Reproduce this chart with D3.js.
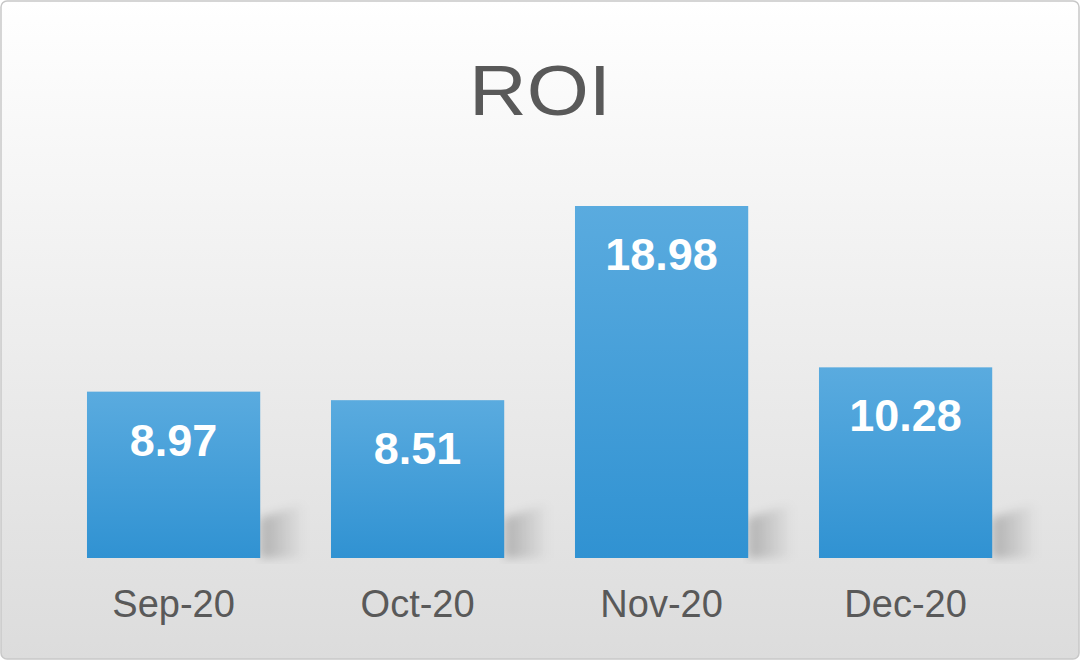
<!DOCTYPE html>
<html><head><meta charset="utf-8">
<script src="https://cdn.jsdelivr.net/npm/d3@7"></script>
<style>body{margin:0;background:#fff}</style></head>
<body><svg id="c" width="1080" height="660"></svg>
<script>
const categories = ["Sep-20","Oct-20","Nov-20","Dec-20"];
const values = [8.97, 8.51, 18.98, 10.28];
const title = "ROI";

const svg = d3.select("#c");
const defs = svg.append("defs");
const bg = defs.append("linearGradient").attr("id","bg").attr("x1",0).attr("x2",0).attr("y1",0).attr("y2",1);
bg.append("stop").attr("offset","0%").attr("stop-color","#ffffff");
bg.append("stop").attr("offset","100%").attr("stop-color","#dcdcdc");
const bar = defs.append("linearGradient").attr("id","bar").attr("x1",0).attr("x2",0).attr("y1",0).attr("y2",1);
bar.append("stop").attr("offset","0%").attr("stop-color","#5aabdf");
bar.append("stop").attr("offset","100%").attr("stop-color","#3092d2");
const sh = defs.append("linearGradient").attr("id","sh").attr("x1",0).attr("x2",1).attr("y1",0).attr("y2",0);
sh.append("stop").attr("offset","0%").attr("stop-color","#000").attr("stop-opacity",0.22);
sh.append("stop").attr("offset","100%").attr("stop-color","#000").attr("stop-opacity",0);
defs.append("filter").attr("id","blur").append("feGaussianBlur").attr("stdDeviation",5);

svg.append("rect").attr("x",1).attr("y",1).attr("width",1078).attr("height",658).attr("rx",6)
  .attr("fill","url(#bg)").attr("stroke","#c8c8c8").attr("stroke-width",1.5);

svg.append("text").attr("x",540).attr("y",115).attr("text-anchor","middle")
  .attr("font-family","Liberation Sans, Arial, sans-serif").attr("font-size",70)
  .attr("textLength",142).attr("lengthAdjust","spacingAndGlyphs").attr("fill","#595959").text(title);

const x = d3.scaleBand().domain(categories).range([51.6,1027.6]).paddingInner(0.29).paddingOuter(0.145);
const y = d3.scaleLinear().domain([0,18.98]).range([558,206]);

const g = svg.append("g");
g.selectAll(".sh").data(values).join("path")
  .attr("d",(d,i)=>{const x1=x(categories[i])+x.bandwidth(), yb=y(0);
    return `M${x1},${yb} L${x1},${yb-40} L${x1+45},${yb-55} L${x1+45},${yb} Z`;})
  .attr("fill","url(#sh)").attr("filter","url(#blur)");
g.selectAll(".b").data(values).join("rect")
  .attr("x",(d,i)=>x(categories[i])).attr("width",x.bandwidth())
  .attr("y",d=>y(d)).attr("height",d=>y(0)-y(d)).attr("fill","url(#bar)");
g.selectAll(".l").data(values).join("text")
  .attr("x",(d,i)=>x(categories[i])+x.bandwidth()/2).attr("y",d=>y(d)+64)
  .attr("text-anchor","middle").attr("font-family","Liberation Sans, Arial, sans-serif")
  .attr("font-weight","bold").attr("font-size",45).attr("fill","#fff").text(d=>d.toFixed(2));

const ax = svg.append("g").attr("transform","translate(0,558)").call(d3.axisBottom(x).tickSize(0).tickPadding(32));
ax.select(".domain").remove();
ax.selectAll("text").attr("font-family","Liberation Sans, Arial, sans-serif").attr("font-size",38).attr("fill","#595959");
</script></body></html>
